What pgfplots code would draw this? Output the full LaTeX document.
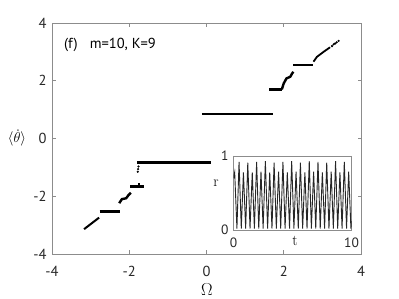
\documentclass[border=0pt]{standalone}
\usepackage{pgfplots}
\pgfplotsset{compat=1.18}
\usepackage{fontspec}
\newfontfamily\sansf{PT Sans}
\newcommand\tickfont{\fontsize{14.5}{16}\selectfont\sansf}
\newcommand\insetfont{\fontsize{13.5}{15}\selectfont\sansf}
\definecolor{axgray}{gray}{0.55}
\begin{document}
\begin{tikzpicture}[x=1pt,y=1pt]
\useasboundingbox (0,0) rectangle (399,299);
\begin{axis}[
  at={(52pt,45pt)}, anchor=south west, scale only axis,
  width=309pt, height=231pt,
  xmin=-4, xmax=4, ymin=-4, ymax=4,
  xtick={-4,-2,0,2,4}, xticklabels={-4,-2,0,2,4},
  ytick={-4,-2,0,2,4}, yticklabels={-4,-2,0,2,4},
  tick align=inside, major tick length=3.5pt,
  axis line style={draw=axgray, line width=0.8pt},
  every tick/.style={draw=axgray, line width=0.8pt},
  xticklabel style={font=\tickfont, text=black!85, yshift=-8.5pt},
  yticklabel style={font=\tickfont, text=black!85, xshift=-2pt},
  clip=false,
]
% negative branch
\addplot[black, line width=2pt] coordinates {(-3.17,-3.14) (-2.78,-2.74)};
\addplot[black, line width=2.6pt] coordinates {(-2.77,-2.52) (-2.24,-2.52)};
\addplot[black, line width=2.4pt] coordinates {(-2.26,-2.24) (-2.19,-2.10) (-2.08,-2.07) (-2.02,-1.96) (-1.96,-1.88)};
\addplot[black, line width=2.6pt] coordinates {(-1.98,-1.67) (-1.63,-1.67)};
\addplot[black, line width=2pt] coordinates {(-1.75,-1.55) (-1.75,-1.72)};
\addplot[black, only marks, mark=*, mark size=0.9pt] coordinates {(-1.76,-0.97) (-1.77,-1.06) (-1.78,-1.15)};
\addplot[black, line width=2.6pt] coordinates {(-1.79,-0.84) (0.11,-0.84)};
% positive branch
\addplot[black, line width=2.6pt] coordinates {(-0.12,0.85) (1.73,0.85)};
\addplot[black, line width=2.6pt] coordinates {(1.63,1.70) (1.95,1.70)};
\addplot[black, line width=2.4pt] coordinates {(1.95,1.70) (2.00,1.91) (2.07,2.08) (2.17,2.14) (2.22,2.26) (2.25,2.31)};
\addplot[black, line width=2.6pt] coordinates {(2.24,2.55) (2.77,2.55)};
\addplot[black, line width=1.8pt] coordinates {(2.77,2.66) (2.86,2.83) (3.03,3.00) (3.20,3.16)};
\addplot[black, only marks, mark=*, mark size=0.9pt] coordinates {(3.25,3.20) (3.29,3.26) (3.33,3.29) (3.37,3.33) (3.42,3.38)};
\node[anchor=west, inner sep=0, font=\tickfont, text=black] at (axis cs:-3.69,3.24) {(f)\hspace{12pt}m=10, K=9};
\end{axis}
\begin{axis}[
  at={(233.5pt,69pt)}, anchor=south west, scale only axis,
  width=118pt, height=74pt,
  xmin=0, xmax=10, ymin=0, ymax=1,
  xtick={0,10}, xticklabels={0,10},
  ytick={0,1}, yticklabels={0,1},
  tick align=inside, major tick length=2.5pt,
  axis background/.style={fill=white},
  axis line style={draw=axgray, line width=0.8pt},
  every tick/.style={draw=axgray, line width=0.8pt},
  xticklabel style={font=\insetfont, text=black!85, yshift=-4.5pt},
  yticklabel style={font=\insetfont, text=black!85, xshift=-1.5pt},
]
\addplot[black!85, line width=0.9pt] coordinates {
(0,0.70) (0.10,0.78) (0.29,0.02) (0.47,0.92) (0.66,0.02) (0.84,0.78) (1.03,0.02)
(1.21,0.91) (1.40,0.02) (1.59,0.78) (1.77,0.02) (1.96,0.92) (2.14,0.02)
(2.33,0.79) (2.51,0.02) (2.70,0.93) (2.89,0.02) (3.07,0.78) (3.26,0.02)
(3.44,0.91) (3.63,0.02) (3.82,0.79) (4.00,0.02) (4.19,0.92) (4.37,0.02)
(4.56,0.78) (4.75,0.02) (4.93,0.93) (5.12,0.02) (5.30,0.79) (5.49,0.02)
(5.67,0.91) (5.86,0.02) (6.05,0.78) (6.23,0.02) (6.42,0.93) (6.60,0.02)
(6.79,0.79) (6.97,0.02) (7.16,0.92) (7.35,0.02) (7.53,0.78) (7.72,0.02)
(7.90,0.91) (8.09,0.02) (8.28,0.79) (8.46,0.02) (8.65,0.93) (8.83,0.02)
(9.02,0.78) (9.20,0.02) (9.39,0.92) (9.58,0.02) (9.76,0.79) (9.95,0.02) (10,0.12)};
\end{axis}
\node at (216,116) {\fontsize{15}{17}\selectfont$\mathrm{r}$};
\node at (295,58) {\fontsize{15}{17}\selectfont$\mathrm{t}$};
\node[inner sep=0pt] at (17,161) {\fontsize{15.5}{17}\selectfont$\langle\dot{\theta}\rangle$};
\node at (207,9) {\fontsize{17}{19}\selectfont$\Omega$};
\end{tikzpicture}
\end{document}
